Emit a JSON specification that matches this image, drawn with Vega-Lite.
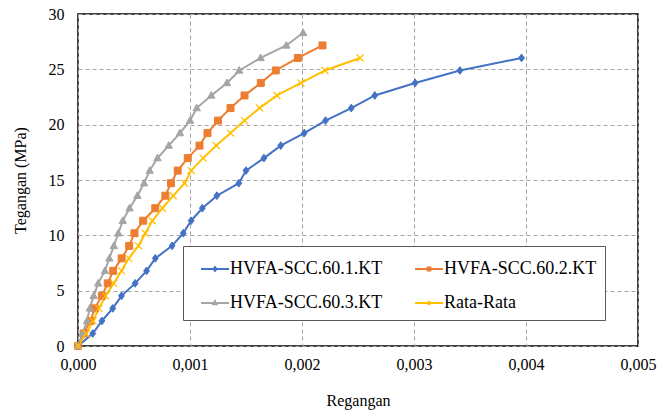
{
  "$schema": "https://vega.github.io/schema/vega-lite/v6.json",
  "width": 560,
  "height": 332,
  "autosize": {"type": "none"},
  "padding": {"left": 78, "top": 14, "right": 19, "bottom": 66},
  "background": "white",
  "config": {
    "font": "Liberation Serif",
    "view": {"stroke": "#000000", "strokeWidth": 1.5},
    "axis": {"labelFont": "Liberation Serif", "titleFont": "Liberation Serif"}
  },
  "data": {
    "values": [
      {"seri": "HVFA-SCC.60.1.KT", "regangan": 0, "tegangan": 0},
      {"seri": "HVFA-SCC.60.1.KT", "regangan": 0.000132, "tegangan": 1.13},
      {"seri": "HVFA-SCC.60.1.KT", "regangan": 0.000213, "tegangan": 2.26},
      {"seri": "HVFA-SCC.60.1.KT", "regangan": 0.00031, "tegangan": 3.40},
      {"seri": "HVFA-SCC.60.1.KT", "regangan": 0.000388, "tegangan": 4.53},
      {"seri": "HVFA-SCC.60.1.KT", "regangan": 0.00051, "tegangan": 5.66},
      {"seri": "HVFA-SCC.60.1.KT", "regangan": 0.000612, "tegangan": 6.79},
      {"seri": "HVFA-SCC.60.1.KT", "regangan": 0.00069, "tegangan": 7.92},
      {"seri": "HVFA-SCC.60.1.KT", "regangan": 0.00084, "tegangan": 9.05},
      {"seri": "HVFA-SCC.60.1.KT", "regangan": 0.00094, "tegangan": 10.19},
      {"seri": "HVFA-SCC.60.1.KT", "regangan": 0.00101, "tegangan": 11.32},
      {"seri": "HVFA-SCC.60.1.KT", "regangan": 0.00111, "tegangan": 12.45},
      {"seri": "HVFA-SCC.60.1.KT", "regangan": 0.00124, "tegangan": 13.58},
      {"seri": "HVFA-SCC.60.1.KT", "regangan": 0.001436, "tegangan": 14.71},
      {"seri": "HVFA-SCC.60.1.KT", "regangan": 0.0015, "tegangan": 15.85},
      {"seri": "HVFA-SCC.60.1.KT", "regangan": 0.00166, "tegangan": 16.98},
      {"seri": "HVFA-SCC.60.1.KT", "regangan": 0.00181, "tegangan": 18.11},
      {"seri": "HVFA-SCC.60.1.KT", "regangan": 0.00202, "tegangan": 19.24},
      {"seri": "HVFA-SCC.60.1.KT", "regangan": 0.00221, "tegangan": 20.37},
      {"seri": "HVFA-SCC.60.1.KT", "regangan": 0.00244, "tegangan": 21.50},
      {"seri": "HVFA-SCC.60.1.KT", "regangan": 0.00265, "tegangan": 22.64},
      {"seri": "HVFA-SCC.60.1.KT", "regangan": 0.00301, "tegangan": 23.77},
      {"seri": "HVFA-SCC.60.1.KT", "regangan": 0.00341, "tegangan": 24.90},
      {"seri": "HVFA-SCC.60.1.KT", "regangan": 0.00396, "tegangan": 26.03},
      {"seri": "HVFA-SCC.60.2.KT", "regangan": 0, "tegangan": 0},
      {"seri": "HVFA-SCC.60.2.KT", "regangan": 0.00005, "tegangan": 1.13},
      {"seri": "HVFA-SCC.60.2.KT", "regangan": 0.00011, "tegangan": 2.26},
      {"seri": "HVFA-SCC.60.2.KT", "regangan": 0.00015, "tegangan": 3.40},
      {"seri": "HVFA-SCC.60.2.KT", "regangan": 0.000213, "tegangan": 4.53},
      {"seri": "HVFA-SCC.60.2.KT", "regangan": 0.000266, "tegangan": 5.66},
      {"seri": "HVFA-SCC.60.2.KT", "regangan": 0.000314, "tegangan": 6.79},
      {"seri": "HVFA-SCC.60.2.KT", "regangan": 0.00039, "tegangan": 7.92},
      {"seri": "HVFA-SCC.60.2.KT", "regangan": 0.000457, "tegangan": 9.05},
      {"seri": "HVFA-SCC.60.2.KT", "regangan": 0.000504, "tegangan": 10.19},
      {"seri": "HVFA-SCC.60.2.KT", "regangan": 0.000582, "tegangan": 11.32},
      {"seri": "HVFA-SCC.60.2.KT", "regangan": 0.00069, "tegangan": 12.45},
      {"seri": "HVFA-SCC.60.2.KT", "regangan": 0.00078, "tegangan": 13.58},
      {"seri": "HVFA-SCC.60.2.KT", "regangan": 0.00083, "tegangan": 14.71},
      {"seri": "HVFA-SCC.60.2.KT", "regangan": 0.00089, "tegangan": 15.85},
      {"seri": "HVFA-SCC.60.2.KT", "regangan": 0.00098, "tegangan": 16.98},
      {"seri": "HVFA-SCC.60.2.KT", "regangan": 0.001085, "tegangan": 18.11},
      {"seri": "HVFA-SCC.60.2.KT", "regangan": 0.001156, "tegangan": 19.24},
      {"seri": "HVFA-SCC.60.2.KT", "regangan": 0.00125, "tegangan": 20.37},
      {"seri": "HVFA-SCC.60.2.KT", "regangan": 0.001362, "tegangan": 21.50},
      {"seri": "HVFA-SCC.60.2.KT", "regangan": 0.001487, "tegangan": 22.64},
      {"seri": "HVFA-SCC.60.2.KT", "regangan": 0.001632, "tegangan": 23.77},
      {"seri": "HVFA-SCC.60.2.KT", "regangan": 0.001766, "tegangan": 24.90},
      {"seri": "HVFA-SCC.60.2.KT", "regangan": 0.001963, "tegangan": 26.03},
      {"seri": "HVFA-SCC.60.2.KT", "regangan": 0.002183, "tegangan": 27.16},
      {"seri": "HVFA-SCC.60.3.KT", "regangan": 0, "tegangan": 0},
      {"seri": "HVFA-SCC.60.3.KT", "regangan": 0.00004, "tegangan": 1.13},
      {"seri": "HVFA-SCC.60.3.KT", "regangan": 0.00008, "tegangan": 2.26},
      {"seri": "HVFA-SCC.60.3.KT", "regangan": 0.000105, "tegangan": 3.40},
      {"seri": "HVFA-SCC.60.3.KT", "regangan": 0.00014, "tegangan": 4.53},
      {"seri": "HVFA-SCC.60.3.KT", "regangan": 0.00018, "tegangan": 5.66},
      {"seri": "HVFA-SCC.60.3.KT", "regangan": 0.00024, "tegangan": 6.79},
      {"seri": "HVFA-SCC.60.3.KT", "regangan": 0.00028, "tegangan": 7.92},
      {"seri": "HVFA-SCC.60.3.KT", "regangan": 0.00032, "tegangan": 9.05},
      {"seri": "HVFA-SCC.60.3.KT", "regangan": 0.00036, "tegangan": 10.19},
      {"seri": "HVFA-SCC.60.3.KT", "regangan": 0.0004, "tegangan": 11.32},
      {"seri": "HVFA-SCC.60.3.KT", "regangan": 0.00046, "tegangan": 12.45},
      {"seri": "HVFA-SCC.60.3.KT", "regangan": 0.00053, "tegangan": 13.58},
      {"seri": "HVFA-SCC.60.3.KT", "regangan": 0.00059, "tegangan": 14.71},
      {"seri": "HVFA-SCC.60.3.KT", "regangan": 0.00064, "tegangan": 15.85},
      {"seri": "HVFA-SCC.60.3.KT", "regangan": 0.00071, "tegangan": 16.98},
      {"seri": "HVFA-SCC.60.3.KT", "regangan": 0.00081, "tegangan": 18.11},
      {"seri": "HVFA-SCC.60.3.KT", "regangan": 0.00091, "tegangan": 19.24},
      {"seri": "HVFA-SCC.60.3.KT", "regangan": 0.001, "tegangan": 20.37},
      {"seri": "HVFA-SCC.60.3.KT", "regangan": 0.00106, "tegangan": 21.50},
      {"seri": "HVFA-SCC.60.3.KT", "regangan": 0.00119, "tegangan": 22.64},
      {"seri": "HVFA-SCC.60.3.KT", "regangan": 0.00133, "tegangan": 23.77},
      {"seri": "HVFA-SCC.60.3.KT", "regangan": 0.00144, "tegangan": 24.90},
      {"seri": "HVFA-SCC.60.3.KT", "regangan": 0.00163, "tegangan": 26.03},
      {"seri": "HVFA-SCC.60.3.KT", "regangan": 0.00186, "tegangan": 27.16},
      {"seri": "HVFA-SCC.60.3.KT", "regangan": 0.00201, "tegangan": 28.30},
      {"seri": "Rata-Rata", "regangan": 0, "tegangan": 0},
      {"seri": "Rata-Rata", "regangan": 0.000074, "tegangan": 1.13},
      {"seri": "Rata-Rata", "regangan": 0.000134, "tegangan": 2.26},
      {"seri": "Rata-Rata", "regangan": 0.000188, "tegangan": 3.40},
      {"seri": "Rata-Rata", "regangan": 0.000247, "tegangan": 4.53},
      {"seri": "Rata-Rata", "regangan": 0.000319, "tegangan": 5.66},
      {"seri": "Rata-Rata", "regangan": 0.000389, "tegangan": 6.79},
      {"seri": "Rata-Rata", "regangan": 0.000453, "tegangan": 7.92},
      {"seri": "Rata-Rata", "regangan": 0.000539, "tegangan": 9.05},
      {"seri": "Rata-Rata", "regangan": 0.000601, "tegangan": 10.19},
      {"seri": "Rata-Rata", "regangan": 0.000664, "tegangan": 11.32},
      {"seri": "Rata-Rata", "regangan": 0.000753, "tegangan": 12.45},
      {"seri": "Rata-Rata", "regangan": 0.00085, "tegangan": 13.58},
      {"seri": "Rata-Rata", "regangan": 0.000952, "tegangan": 14.71},
      {"seri": "Rata-Rata", "regangan": 0.00101, "tegangan": 15.85},
      {"seri": "Rata-Rata", "regangan": 0.001117, "tegangan": 16.98},
      {"seri": "Rata-Rata", "regangan": 0.001235, "tegangan": 18.11},
      {"seri": "Rata-Rata", "regangan": 0.001362, "tegangan": 19.24},
      {"seri": "Rata-Rata", "regangan": 0.001487, "tegangan": 20.37},
      {"seri": "Rata-Rata", "regangan": 0.001621, "tegangan": 21.50},
      {"seri": "Rata-Rata", "regangan": 0.001776, "tegangan": 22.64},
      {"seri": "Rata-Rata", "regangan": 0.001991, "tegangan": 23.77},
      {"seri": "Rata-Rata", "regangan": 0.002205, "tegangan": 24.90},
      {"seri": "Rata-Rata", "regangan": 0.002518, "tegangan": 26.03}
    ]
  },
  "encoding": {
    "x": {
      "field": "regangan",
      "type": "quantitative",
      "scale": {"domain": [0, 0.005], "nice": false, "zero": true},
      "axis": {
        "title": "Regangan",
        "values": [0, 0.001, 0.002, 0.003, 0.004, 0.005],
        "labelExpr": "replace(format(datum.value, '.3f'), '.', ',')",
        "labelFont": "Liberation Serif",
        "titleFont": "Liberation Serif",
        "labelFontSize": 16,
        "titleFontSize": 16,
        "titleFontWeight": "normal",
        "labelColor": "#000000",
        "titleColor": "#000000",
        "labelPadding": 10,
        "titlePadding": 20,
        "labelFlush": false,
        "ticks": false,
        "domain": false,
        "grid": true,
        "gridColor": "#A6A6A6",
        "gridDash": [4, 3],
        "gridWidth": 1
      }
    },
    "y": {
      "field": "tegangan",
      "type": "quantitative",
      "scale": {"domain": [0, 30], "nice": false},
      "axis": {
        "title": "Tegangan (MPa)",
        "values": [0, 5, 10, 15, 20, 25, 30],
        "labelFont": "Liberation Serif",
        "titleFont": "Liberation Serif",
        "labelFontSize": 16,
        "titleFontSize": 16,
        "titleFontWeight": "normal",
        "labelColor": "#000000",
        "titleColor": "#000000",
        "labelPadding": 14,
        "titlePadding": 20,
        "labelFlush": false,
        "ticks": false,
        "domain": false,
        "grid": true,
        "gridColor": "#A6A6A6",
        "gridDash": [4, 3],
        "gridWidth": 1
      }
    }
  },
  "layer": [
    {
      "mark": {"type": "line", "strokeWidth": 2},
      "encoding": {
        "color": {
          "field": "seri",
          "type": "nominal",
          "scale": {
            "domain": ["HVFA-SCC.60.1.KT", "HVFA-SCC.60.2.KT", "HVFA-SCC.60.3.KT", "Rata-Rata"],
            "range": ["#4472C4", "#ED7D31", "#A5A5A5", "#FFC000"]
          }
        }
      }
    },
    {
      "transform": [{"filter": "datum.seri === 'HVFA-SCC.60.1.KT'"}],
      "mark": {"type": "point", "filled": true, "opacity": 1, "size": 60, "strokeWidth": 1, "shape": "M0,-1L0.75,0L0,1L-0.75,0Z", "color": "#4472C4", "stroke": "#4472C4"}
    },
    {
      "transform": [{"filter": "datum.seri === 'HVFA-SCC.60.2.KT'"}],
      "mark": {"type": "point", "filled": true, "opacity": 1, "size": 60, "strokeWidth": 1, "shape": "M-0.9,-0.9H0.9V0.9H-0.9Z", "color": "#ED7D31", "stroke": "#ED7D31"}
    },
    {
      "transform": [{"filter": "datum.seri === 'HVFA-SCC.60.3.KT'"}],
      "mark": {"type": "point", "filled": true, "opacity": 1, "size": 60, "strokeWidth": 1, "shape": "M0,-1L0.95,0.7L-0.95,0.7Z", "color": "#A5A5A5", "stroke": "#A5A5A5"}
    },
    {
      "transform": [{"filter": "datum.seri === 'Rata-Rata'"}],
      "mark": {"type": "point", "filled": true, "opacity": 1, "size": 60, "strokeWidth": 1.3, "shape": "M-0.9,-0.9L0.9,0.9M-0.9,0.9L0.9,-0.9", "color": "#FFC000", "stroke": "#FFC000"}
    },
    {
      "mark": {"type": "point", "filled": false, "opacity": 0, "strokeWidth": 2},
      "encoding": {
        "color": {
          "field": "seri",
          "type": "nominal",
          "legend": {
            "title": null,
            "orient": "none",
            "legendX": 105,
            "legendY": 232,
            "direction": "horizontal",
            "columns": 2,
            "padding": 8,
            "fillColor": "#FFFFFF",
            "strokeColor": "#595959",
            "labelFont": "Liberation Serif",
            "labelFontSize": 18,
            "labelColor": "#000000",
            "labelLimit": 300,
            "labelOffset": 0,
            "symbolSize": 784,
            "symbolStrokeWidth": 2,
            "symbolOpacity": 1,
            "symbolOffset": 9,
            "columnPadding": 22,
            "rowPadding": 10
          }
        },
        "shape": {
          "field": "seri",
          "type": "nominal",
          "scale": {
            "domain": ["HVFA-SCC.60.1.KT", "HVFA-SCC.60.2.KT", "HVFA-SCC.60.3.KT", "Rata-Rata"],
            "range": ["M-1,0L1,0M0,-0.13L0.1,0L0,0.13L-0.1,0Z", "M-1,0L1,0M-0.1,-0.1L0.1,-0.1L0.1,0.1L-0.1,0.1Z", "M-1,0L1,0M0,-0.13L0.12,0.09L-0.12,0.09Z", "M-1,0L1,0M-0.11,-0.11L0.11,0.11M-0.11,0.11L0.11,-0.11"]
          },
          "legend": {
            "title": null,
            "orient": "none",
            "legendX": 105,
            "legendY": 232,
            "direction": "horizontal",
            "columns": 2,
            "padding": 8,
            "fillColor": "#FFFFFF",
            "strokeColor": "#595959",
            "labelFont": "Liberation Serif",
            "labelFontSize": 18,
            "labelColor": "#000000",
            "labelLimit": 300,
            "labelOffset": 0,
            "symbolSize": 784,
            "symbolStrokeWidth": 2,
            "symbolOpacity": 1,
            "symbolOffset": 9,
            "columnPadding": 22,
            "rowPadding": 10
          }
        }
      }
    }
  ]
}
